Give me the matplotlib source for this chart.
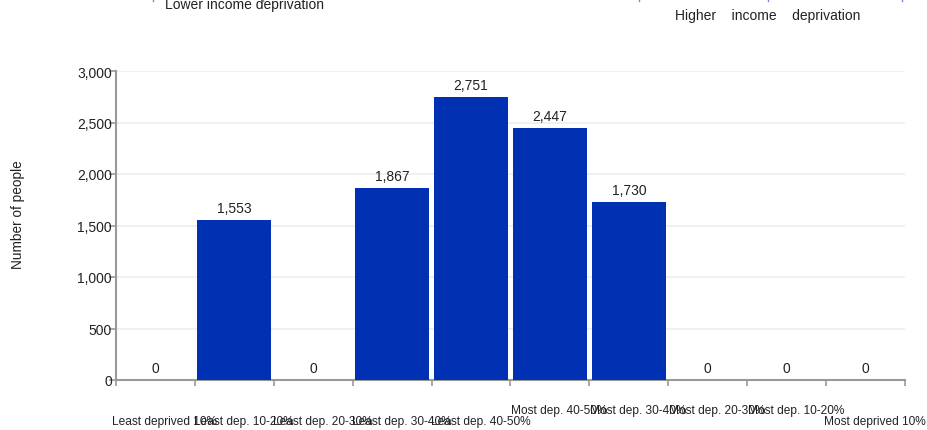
import matplotlib
matplotlib.use("Agg")
import matplotlib.pyplot as plt
import matplotlib.transforms as mtransforms
import numpy as np

categories = ["Least deprived 10%", "Least dep. 10-20%", "Least dep. 20-30%",
              "Least dep. 30-40%", "Least dep. 40-50%", "Most dep. 40-50%",
              "Most dep. 30-40%", "Most dep. 20-30%", "Most dep. 10-20%",
              "Most deprived 10%"]
values = [0, 1553, 0, 1867, 2751, 2447, 1730, 0, 0, 0]
yticks = [0, 500, 1000, 1500, 2000, 2500, 3000]
# label row: 0 = lower row, 1 = upper row
label_rows = [0, 0, 0, 0, 0, 1, 1, 1, 1, 0]

plt.rcParams['font.family'] = ['Liberation Sans', 'DejaVu Sans']

fig = plt.figure(figsize=(9.28, 4.31), dpi=100)
ax = fig.add_axes([116/928, 1-381/431, (905-116)/928, (381-72)/431])

x = np.arange(len(categories))
ax.bar(x + 0.5, values, width=0.94, color="#0031b2", zorder=3)
ax.set_xlim(0, len(categories))
ax.set_ylim(0, 3000)

for xi, v in zip(x, values):
    ax.annotate(f"{v:,}", (xi + 0.5, v), xytext=(0, 3.5), textcoords="offset points",
                ha="center", va="bottom", fontsize=10, color="#222222")

ax.set_yticks(yticks)
ax.set_yticklabels([f"{t:,}" for t in yticks], fontsize=10, color="#222222")
ax.set_xticks(np.arange(len(categories) + 1))
ax.set_xticklabels([])
ax.tick_params(axis="x", length=4, color="#999999", width=1.2)
ax.tick_params(axis="y", length=5, color="#999999", width=1.2, pad=-2)
ax.yaxis.grid(True, color="#eeeeee", linewidth=1.2, zorder=0)
ax.set_axisbelow(True)
for s in ["top", "right"]:
    ax.spines[s].set_visible(False)
for s in ["left", "bottom"]:
    ax.spines[s].set_color("#999999")
    ax.spines[s].set_linewidth(1.5)

trans = mtransforms.blended_transform_factory(ax.transData, fig.transFigure)
for xi, lab, r in zip(x, categories, label_rows):
    ypix = 411 if r == 1 else 422
    ax.text(xi + 0.62, 1 - ypix/431, lab, transform=trans,
            ha="center", va="center", fontsize=8.6, color="#222222")

fig.text(18/928, 1-215/431, "Number of people", rotation=90, ha="center", va="center",
         fontsize=9.8, color="#222222")

fig.text(165/928, 1-5/431, "Lower income deprivation", ha="left", va="center",
         fontsize=10, color="#222222")
fig.text(675/928, 1-16/431, "Higher    income    deprivation", ha="left", va="center",
         fontsize=10, color="#222222")

# tiny cut-off arrow fragments at top edge
for px in [153, 263, 639, 768, 902]:
    fig.add_artist(plt.Line2D([px/928, px/928], [1-2/431, 1.0], transform=fig.transFigure,
                              color="#6f8ee8", linewidth=1.0))

fig.savefig("out.png", dpi=100)
